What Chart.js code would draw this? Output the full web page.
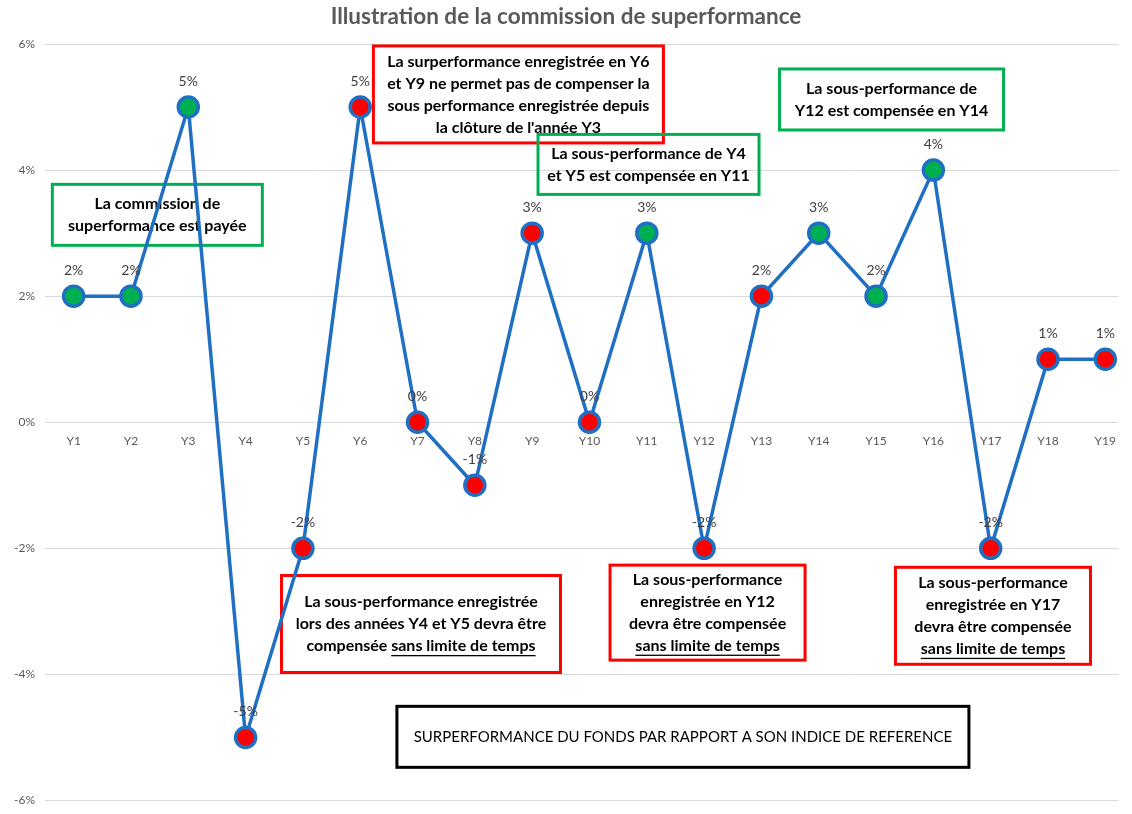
<!DOCTYPE html>
<html lang="fr">
<head>
  <meta charset="UTF-8">
  <title>Illustration de la commission de superformance</title>
  <script src="https://cdn.jsdelivr.net/npm/chart.js"></script>
  <style>
    html, body {
      margin: 0;
      padding: 0;
      background: #ffffff;
      overflow: hidden;
    }
    canvas { display: block; }
  </style>
</head>
<body>
  <canvas id="perfChart" width="1132" height="814"></canvas>

  <script>
    // data
    const YEARS = ['Y1', 'Y2', 'Y3', 'Y4', 'Y5', 'Y6', 'Y7', 'Y8', 'Y9', 'Y10',
                   'Y11', 'Y12', 'Y13', 'Y14', 'Y15', 'Y16', 'Y17', 'Y18', 'Y19'];
    const OUTPERF = [2, 2, 5, -5, -2, 5, 0, -1, 3, 0, 3, -2, 2, 3, 2, 4, -2, 1, 1];
    // true = commission paid (green), false = not paid (red)
    const FEE_PAID = [true, true, true, false, false, false, false, false, false, false,
                      true, false, false, true, true, true, false, false, false];
    const Y_TICKS = [-6, -4, -2, 0, 2, 4, 6];

    const GREEN = '#00b050';
    const RED = '#ff0000';
    const BLUE = '#1f6fc2';
    const FONT = "Lato, 'Open Sans', sans-serif";

    // text boxes, anchored in chart units (x = year index, y = %)
    // _text_ = underlined
    const NOTES = [
      { x: 1.46, y: 3.29, w: 210, h: 61, color: GREEN, bold: true, size: 16,
        lines: ['La commission de', 'superformance est payée'] },
      { x: 7.76, y: 5.20, w: 290, h: 97, color: RED, bold: true, size: 16,
        lines: ['La surperformance enregistrée en Y6', 'et Y9 ne permet pas de compenser la',
                'sous performance enregistrée depuis', "la clôture de l'année Y3"] },
      { x: 10.03, y: 4.09, w: 221, h: 60, color: GREEN, bold: true, size: 16,
        lines: ['La sous-performance de Y4', 'et Y5 est compensée en Y11'] },
      { x: 14.27, y: 5.12, w: 224, h: 61, color: GREEN, bold: true, size: 16,
        lines: ['La sous-performance de', 'Y12 est compensée en Y14'] },
      { x: 6.06, y: -3.20, w: 279, h: 97, color: RED, bold: true, size: 16,
        lines: ['La sous-performance enregistrée', 'lors des années Y4 et Y5 devra être',
                'compensée _sans limite de temps_'] },
      { x: 11.06, y: -3.02, w: 195, h: 95, color: RED, bold: true, size: 16,
        lines: ['La sous-performance', 'enregistrée en Y12', 'devra être compensée',
                '_sans limite de temps_'] },
      { x: 16.04, y: -3.07, w: 195, h: 97, color: RED, bold: true, size: 16,
        lines: ['La sous-performance', 'enregistrée en Y17', 'devra être compensée',
                '_sans limite de temps_'] },
      { x: 10.63, y: -4.99, w: 572, h: 61, color: '#000000', bold: false, size: 15,
        lines: ['SURPERFORMANCE DU FONDS PAR RAPPORT A SON INDICE DE REFERENCE'] }
    ];

    function drawLine(ctx, line, cx, cy) {
      // split on underscores: odd parts are underlined
      const parts = line.split('_');
      const total = parts.reduce((s, p) => s + ctx.measureText(p).width, 0);
      let x = cx - total / 2;
      parts.forEach((p, i) => {
        const w = ctx.measureText(p).width;
        ctx.fillText(p, x, cy);
        if (i % 2 === 1 && p.length) {
          ctx.fillRect(x, cy + 9, w, 1.3);
        }
        x += w;
      });
    }

    const notesPlugin = {
      id: 'notes',
      beforeDatasetsDraw(chart) {
        const ctx = chart.ctx;
        const xs = chart.scales.x, ys = chart.scales.y;
        ctx.save();
        NOTES.forEach(n => {
          const cx = xs.getPixelForValue(n.x);
          const cy = ys.getPixelForValue(n.y);
          ctx.lineWidth = 3;
          ctx.strokeStyle = n.color;
          ctx.strokeRect(cx - n.w / 2, cy - n.h / 2, n.w, n.h);
          ctx.fillStyle = '#000000';
          ctx.font = (n.bold ? 'bold ' : '') + n.size + 'px ' + FONT;
          ctx.textAlign = 'left';
          ctx.textBaseline = 'middle';
          const lh = 22;
          const top = cy - (n.lines.length - 1) * lh / 2;
          n.lines.forEach((l, i) => drawLine(ctx, l, cx, top + i * lh));
        });
        ctx.restore();
      }
    };

    const valueLabels = {
      id: 'valueLabels',
      afterDatasetsDraw(chart) {
        const ctx = chart.ctx;
        const meta = chart.getDatasetMeta(0);
        ctx.save();
        ctx.font = '14px ' + FONT;
        ctx.fillStyle = '#404040';
        ctx.textAlign = 'center';
        ctx.textBaseline = 'middle';
        meta.data.forEach((pt, i) => {
          ctx.fillText(OUTPERF[i] + '%', pt.x, pt.y - 26);
        });
        ctx.restore();
      }
    };

    // keep tick labels from shrinking the plot area
    function noPadding(scale) {
      scale.paddingLeft = 0;
      scale.paddingRight = 0;
      scale.paddingTop = 0;
      scale.paddingBottom = 0;
    }

    new Chart(document.getElementById('perfChart'), {
      type: 'line',
      data: {
        datasets: [{
          data: OUTPERF.map((v, i) => ({ x: i, y: v })),
          borderColor: BLUE,
          borderWidth: 3.5,
          tension: 0,
          pointRadius: 10,
          pointHoverRadius: 10,
          pointBorderWidth: 3.5,
          pointBorderColor: BLUE,
          pointBackgroundColor: FEE_PAID.map(p => p ? GREEN : RED)
        }]
      },
      options: {
        responsive: false,
        animation: false,
        layout: { padding: { right: 0, bottom: 0 } },
        plugins: {
          legend: { display: false },
          tooltip: { enabled: false },
          title: {
            display: true,
            text: 'Illustration de la commission de superformance',
            color: '#595959',
            font: { family: FONT, size: 22.5, weight: 'bold' },
            padding: { top: 3, bottom: 14 }
          }
        },
        scales: {
          x: {
            type: 'linear',
            // last year sits close to the edge, like the original (cropped) picture
            min: -0.5,
            max: YEARS.length - 1 + 0.23,
            position: { y: 0 },
            afterBuildTicks(scale) {
              scale.ticks = YEARS.map((_, i) => ({ value: i }));
            },
            afterFit: noPadding,
            grid: { display: false, drawTicks: false },
            border: { display: false },
            ticks: {
              color: '#595959',
              font: { family: FONT, size: 12 },
              padding: 12,
              maxRotation: 0,
              autoSkip: false,
              callback: v => YEARS[v]
            }
          },
          y: {
            min: -6,
            max: 6,
            afterBuildTicks(scale) {
              scale.ticks = Y_TICKS.map(v => ({ value: v }));
            },
            afterFit(scale) {
              scale.width = 45;
              noPadding(scale);
            },
            grid: { color: '#d9d9d9', drawTicks: false },
            border: { display: false },
            ticks: {
              color: '#595959',
              font: { family: FONT, size: 12 },
              padding: 10,
              callback: v => v + '%'
            }
          }
        }
      },
      plugins: [notesPlugin, valueLabels]
    });
  </script>
</body>
</html>
